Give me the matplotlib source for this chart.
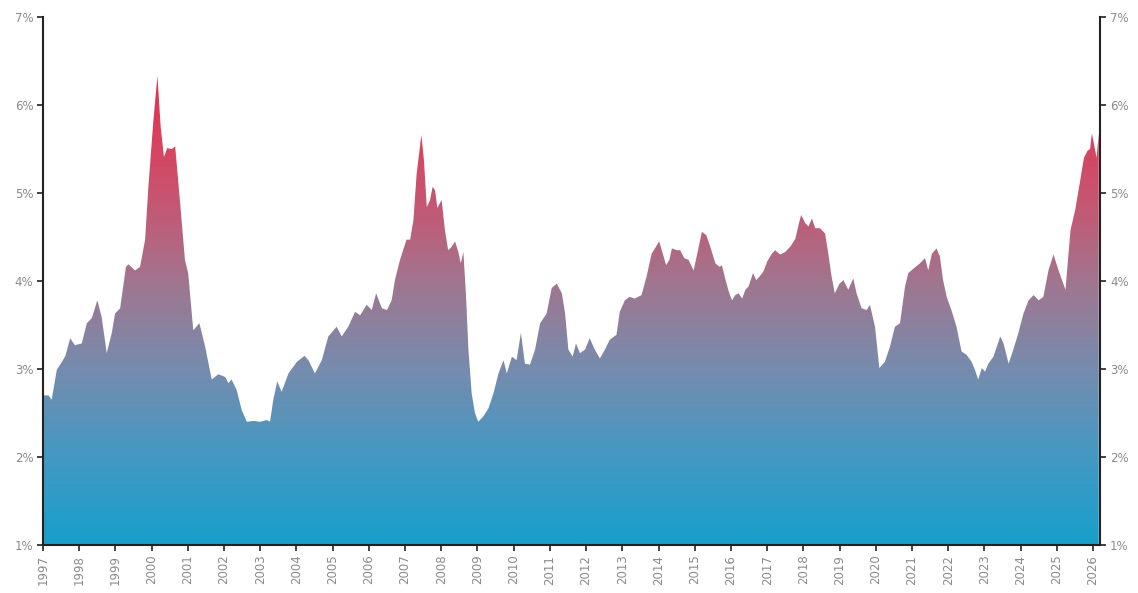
import numpy as np
import matplotlib
matplotlib.use("Agg")
import matplotlib.pyplot as plt
from matplotlib.colors import LinearSegmentedColormap
from matplotlib.ticker import FuncFormatter

# Rate history (decimal year, percent)
years = [
    1997.00, 1997.06, 1997.15, 1997.24, 1997.38, 1997.52, 1997.62, 1997.75, 1997.88,
    1998.07, 1998.21, 1998.35, 1998.50, 1998.62, 1998.76, 1998.90, 1998.99,
    1999.13, 1999.29, 1999.36, 1999.54, 1999.68, 1999.82, 1999.91,
    2000.05, 2000.16, 2000.25, 2000.34, 2000.43, 2000.56, 2000.65, 2000.78, 2000.92,
    2001.01, 2001.15, 2001.32, 2001.48, 2001.66, 2001.84,
    2002.03, 2002.12, 2002.21, 2002.35, 2002.49, 2002.63, 2002.81,
    2003.00, 2003.18, 2003.27, 2003.36, 2003.47, 2003.59, 2003.78,
    2004.01, 2004.22, 2004.33, 2004.51, 2004.70, 2004.88,
    2005.11, 2005.25, 2005.43, 2005.62, 2005.76, 2005.94,
    2006.08, 2006.20, 2006.36, 2006.50, 2006.63, 2006.72, 2006.86,
    2007.04, 2007.14, 2007.23, 2007.32, 2007.45, 2007.52, 2007.60, 2007.69, 2007.76,
    2007.83, 2007.89,
    2008.01, 2008.10, 2008.19, 2008.29, 2008.38, 2008.47, 2008.54, 2008.61, 2008.68,
    2008.75, 2008.84, 2008.93,
    2009.02, 2009.16, 2009.30, 2009.44, 2009.58, 2009.72, 2009.81, 2009.95,
    2010.08, 2010.20, 2010.31, 2010.45, 2010.59, 2010.73, 2010.91,
    2011.05, 2011.19, 2011.33, 2011.42, 2011.51, 2011.63, 2011.72, 2011.83, 2011.97,
    2012.10, 2012.24, 2012.38, 2012.52, 2012.65, 2012.84, 2012.93,
    2013.07, 2013.20, 2013.34, 2013.53, 2013.67, 2013.81, 2013.93,
    2014.02, 2014.09, 2014.21, 2014.30, 2014.37, 2014.51, 2014.60, 2014.71, 2014.83,
    2014.97,
    2015.08, 2015.20, 2015.32, 2015.43, 2015.57, 2015.69, 2015.75, 2015.84, 2015.94,
    2016.03, 2016.12, 2016.21, 2016.31, 2016.40, 2016.49, 2016.61, 2016.70, 2016.79,
    2016.90,
    2017.00, 2017.13, 2017.22, 2017.36, 2017.50, 2017.64, 2017.78, 2017.87, 2017.94,
    2018.05, 2018.14, 2018.24, 2018.33, 2018.46, 2018.60, 2018.69, 2018.78, 2018.87,
    2019.00, 2019.11, 2019.24, 2019.38, 2019.47, 2019.61, 2019.75, 2019.84, 2019.98,
    2020.10, 2020.25, 2020.39, 2020.53, 2020.67, 2020.81, 2020.90,
    2021.04, 2021.22, 2021.36, 2021.45, 2021.55, 2021.68, 2021.77, 2021.86, 2021.96,
    2022.09, 2022.23, 2022.37, 2022.51, 2022.65, 2022.74, 2022.83, 2022.93,
    2023.02, 2023.11, 2023.25, 2023.34, 2023.44, 2023.53, 2023.67, 2023.80, 2023.94,
    2024.08, 2024.22, 2024.36, 2024.50, 2024.63, 2024.77, 2024.91,
    2025.05, 2025.24, 2025.38, 2025.51, 2025.65, 2025.75, 2025.85, 2025.92, 2025.97,
    2026.03, 2026.10, 2026.16,
]

rates = [
    2.70, 2.70, 2.70, 2.65, 2.99, 3.08, 3.15, 3.35, 3.27,
    3.29, 3.52, 3.58, 3.78, 3.59, 3.18, 3.41, 3.63,
    3.69, 4.16, 4.19, 4.12, 4.16, 4.47, 5.07,
    5.83, 6.33, 5.75, 5.41, 5.51, 5.50, 5.53, 4.92, 4.24,
    4.09, 3.44, 3.52, 3.25, 2.88, 2.94,
    2.91, 2.84, 2.88, 2.76, 2.53, 2.40, 2.41,
    2.40, 2.42, 2.40, 2.65, 2.86, 2.74, 2.95,
    3.08, 3.15, 3.10, 2.95, 3.10, 3.37,
    3.48, 3.37, 3.48, 3.65, 3.61, 3.73,
    3.67, 3.86, 3.69, 3.67, 3.78, 4.01, 4.24,
    4.47, 4.47, 4.69, 5.22, 5.66, 5.38, 4.84, 4.92, 5.07,
    5.03, 4.83,
    4.92, 4.58, 4.35, 4.39, 4.45, 4.33, 4.20, 4.33, 3.86,
    3.22, 2.72, 2.50,
    2.40, 2.46, 2.55, 2.72, 2.95, 3.10, 2.95, 3.14,
    3.10, 3.41, 3.06, 3.05, 3.22, 3.52, 3.63,
    3.92, 3.97, 3.86, 3.63, 3.22, 3.14, 3.29, 3.18, 3.22,
    3.35, 3.22, 3.12, 3.22, 3.33, 3.39, 3.65,
    3.78, 3.82, 3.80, 3.84, 4.05, 4.31, 4.39,
    4.45, 4.35, 4.18, 4.24, 4.37, 4.35, 4.35, 4.26, 4.24,
    4.12,
    4.33, 4.56, 4.52, 4.39, 4.20, 4.16, 4.18, 4.03, 3.88,
    3.78, 3.84, 3.86, 3.80, 3.90, 3.94, 4.09, 4.01, 4.05,
    4.11,
    4.22, 4.31, 4.35, 4.30, 4.33, 4.39, 4.48, 4.64, 4.75,
    4.66, 4.62, 4.71, 4.60, 4.60, 4.54, 4.31, 4.05, 3.86,
    3.97, 4.01, 3.90, 4.03, 3.86, 3.69, 3.67, 3.73, 3.48,
    3.01, 3.08, 3.25, 3.48, 3.52, 3.94, 4.09,
    4.14, 4.20, 4.26, 4.12, 4.31, 4.37, 4.28, 4.01, 3.82,
    3.67, 3.48, 3.20, 3.16, 3.08, 2.99, 2.88, 3.01,
    2.97, 3.06, 3.14, 3.25, 3.37, 3.29, 3.06, 3.22, 3.41,
    3.63, 3.78, 3.84, 3.78, 3.82, 4.12, 4.30,
    4.12, 3.90, 4.58, 4.81, 5.15, 5.40, 5.48, 5.50, 5.68,
    5.55, 5.40, 5.68,
]

tick_years = list(range(1997, 2027))
y_ticks = [1, 2, 3, 4, 5, 6, 7]

x = np.array(years)
y = np.array(rates)

fig = plt.figure(figsize=(11.38, 5.93), dpi=100)
ax = fig.add_axes([0.0378, 0.081, 0.929, 0.8903])

x_min, x_max = 1997.0, 2026.2
y_min, y_max = 1.0, 7.0

# Vertical colour ramp: blue at the floor, red toward the highs
ramp = LinearSegmentedColormap.from_list(
    "rate_ramp",
    [
        (0.00, "#179fcb"),
        (0.18, "#4299c3"),
        (0.37, "#768cae"),
        (0.55, "#a0768f"),
        (0.70, "#c25a76"),
        (0.85, "#d8435f"),
        (1.00, "#e2304c"),
    ],
)
grad = np.linspace(y_min, y_max, 512).reshape(-1, 1)
im = ax.imshow(grad, extent=(x_min, x_max, y_min, y_max), origin="lower",
               aspect="auto", cmap=ramp, vmin=1.0, vmax=6.4,
               interpolation="bilinear", zorder=1)

area = ax.fill_between(x, y, y_min, facecolor="none", edgecolor="none", zorder=2)
im.set_clip_path(area.get_paths()[0], transform=ax.transData)

ax.set_xlim(x_min, x_max)
ax.set_ylim(y_min, y_max)

ax.set_xticks(tick_years)
ax.set_xticklabels([str(t) for t in tick_years], rotation=90)
ax.set_yticks(y_ticks)
ax.yaxis.set_major_formatter(FuncFormatter(lambda v, _: f"{int(v)}%"))

ax.yaxis.set_ticks_position("both")
ax.tick_params(axis="y", which="both", direction="out", length=4, width=1.2,
               color="#222222", labelsize=8.5, labelcolor="#8a8a8a",
               labelleft=True, labelright=True, pad=3)
ax.tick_params(axis="x", direction="out", length=4, width=1.2, color="#222222",
               labelsize=8.5, labelcolor="#8a8a8a", pad=3)

ax.spines["top"].set_visible(False)
for side in ("left", "right", "bottom"):
    ax.spines[side].set_color("#222222")
    ax.spines[side].set_linewidth(1.5)
    ax.spines[side].set_zorder(5)

fig.savefig("out.png", dpi=100, facecolor="white")
